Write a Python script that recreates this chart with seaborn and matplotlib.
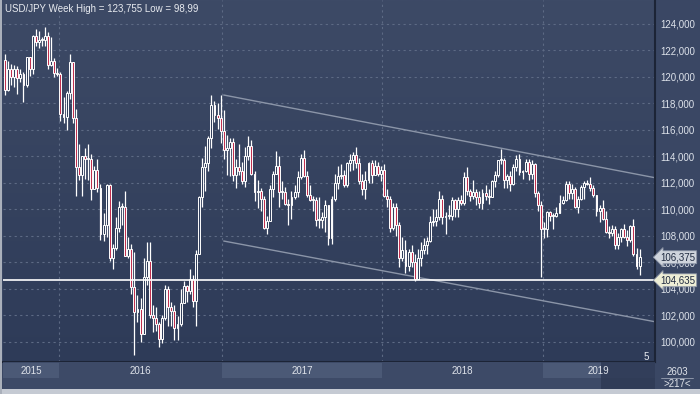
import numpy as np
import pandas as pd
import matplotlib
matplotlib.use("Agg")
import matplotlib.pyplot as plt
import matplotlib.transforms as mtransforms
from matplotlib.patches import Rectangle
import seaborn as sns

# weekly USD/JPY, Sep 2015 .. Aug 2019 (open = previous close)
first_open = 121.3
close = [119.0, 120.6, 120.0, 120.6, 119.9, 120.2, 119.4, 121.5, 120.6, 123.1, 122.6, 122.8, 122.8, 123.1, 120.9, 121.2, 120.3, 120.2,
         117.2, 117.0, 118.8, 121.1, 116.9, 113.2, 112.6, 114.0, 113.8, 113.8, 111.5, 113.0, 111.6, 108.1, 108.8, 111.8, 106.3, 107.1,
         108.6, 110.2, 110.2, 106.5, 107.0, 104.1, 102.2, 102.5, 100.6, 104.9, 106.1, 102.0, 101.8, 101.3, 100.2, 101.8, 104.0, 102.6,
         102.3, 101.0, 101.3, 102.9, 104.2, 103.8, 104.7, 103.1, 106.6, 110.9, 113.2, 113.5, 115.4, 117.9, 117.1, 116.9,
         115.9, 114.5, 114.6, 115.1, 112.6, 113.2, 112.9, 112.1, 114.0, 114.8, 112.7, 111.3, 111.4, 110.8, 108.6, 109.1, 111.5, 112.7,
         113.3, 111.3, 111.3, 110.4, 110.3, 110.9, 111.3, 112.4, 113.9, 112.5, 111.1, 110.7, 110.7, 109.2, 109.2, 109.4, 110.3, 107.8,
         110.8, 112.0, 112.5, 112.6, 111.8, 113.5, 113.7, 114.1, 113.5, 112.1, 111.5, 112.2, 113.5, 112.6, 113.3, 112.7,
         113.0, 111.0, 110.8, 108.6, 110.2, 108.8, 106.3, 106.9, 105.7, 106.8, 106.0, 104.7, 106.3, 106.9, 107.3, 107.6, 109.0, 109.1,
         109.4, 110.8, 109.4, 109.5, 109.5, 110.7, 110.0, 110.7, 110.5, 112.4, 111.4, 111.0, 111.3, 110.9, 110.5, 111.2, 111.0, 110.9,
         112.1, 112.6, 113.7, 113.7, 112.2, 112.5, 111.9, 113.2, 113.8, 112.8, 112.9, 113.6, 112.7, 113.4, 111.2, 110.3,
         108.5, 108.5, 109.8, 109.5, 109.5, 109.7, 110.5, 110.7, 111.9, 111.2, 111.5, 110.2, 110.8, 111.7, 112.0, 111.9, 111.6, 111.1,
         109.9, 110.1, 109.3, 108.3, 108.2, 108.5, 107.3, 107.9, 108.5, 107.9, 107.7, 108.7, 106.6, 105.7, 106.4]
high = [121.7, 121.2, 121.0, 120.9, 120.8, 120.6, 120.4, 121.5, 121.5, 123.2, 123.6, 123.5, 123.0, 123.755, 123.4, 123.0, 121.4, 120.7,
        120.4, 118.5, 118.9, 121.7, 121.0, 117.6, 114.9, 114.0, 114.6, 114.9, 114.2, 113.3, 113.8, 111.9, 109.7, 111.9, 111.9, 107.4,
        109.4, 110.6, 110.5, 111.4, 107.9, 107.4, 106.8, 103.5, 103.3, 106.3, 107.5, 107.5, 102.8, 102.6, 101.5, 102.0, 104.3, 104.2,
        103.0, 102.8, 101.9, 104.0, 104.6, 104.3, 105.5, 105.0, 106.9, 111.0, 113.9, 114.8, 115.5, 118.66, 118.2, 118.0,
        118.6, 117.5, 115.6, 115.4, 115.4, 113.8, 114.9, 113.6, 114.7, 115.5, 115.2, 112.9, 112.2, 111.6, 111.0, 109.5, 111.8, 112.9,
        114.4, 114.0, 112.1, 111.7, 110.8, 111.4, 111.8, 112.9, 114.2, 114.5, 112.9, 111.8, 111.0, 110.9, 110.9, 109.8, 110.7, 110.3,
        111.0, 112.7, 113.3, 113.4, 113.0, 113.6, 114.2, 114.3, 114.7, 113.9, 112.7, 112.9, 113.6, 113.7, 113.7, 113.6,
        113.3, 113.4, 111.5, 111.0, 110.5, 110.5, 109.0, 107.9, 107.7, 107.0, 107.3, 106.6, 107.0, 107.5, 107.8, 107.9, 109.5, 110.0,
        110.0, 111.4, 111.1, 109.8, 110.3, 110.9, 110.8, 110.9, 111.1, 112.8, 113.2, 111.5, 112.2, 111.5, 111.4, 111.5, 111.8, 111.5,
        112.2, 112.9, 113.7, 114.55, 113.9, 112.7, 112.9, 113.4, 114.1, 114.2, 113.0, 113.8, 113.8, 113.7, 113.5, 111.4,
        110.6, 109.0, 109.9, 109.9, 109.7, 110.2, 111.1, 111.0, 112.1, 112.1, 111.9, 111.7, 111.0, 111.8, 112.1, 112.2, 112.4, 111.8,
        111.1, 110.3, 110.7, 109.9, 108.7, 108.8, 108.7, 108.2, 108.6, 108.9, 108.4, 108.8, 109.3, 107.1, 107.0]
low = [118.6, 118.9, 119.4, 119.2, 118.7, 119.6, 118.1, 119.2, 120.1, 120.2, 122.3, 122.2, 122.3, 122.3, 120.6, 120.8, 120.0, 120.1,
       116.7, 116.5, 115.98, 118.3, 116.5, 110.98, 112.2, 111.0, 112.3, 112.2, 110.7, 111.5, 111.3, 107.7, 107.6, 107.9, 106.1, 105.5,
       106.9, 108.3, 108.8, 106.5, 106.3, 103.6, 98.99, 101.5, 99.99, 100.6, 104.3, 101.8, 100.7, 100.8, 99.6, 99.9, 101.6, 101.2,
       101.2, 100.1, 100.1, 101.2, 102.9, 103.0, 103.6, 102.6, 101.2, 106.6, 110.2, 111.4, 112.9, 114.6, 116.6, 116.1,
       115.0, 113.8, 112.6, 112.5, 112.1, 111.6, 112.6, 111.9, 111.7, 113.7, 112.6, 110.6, 110.1, 109.9, 108.5, 108.1, 109.3, 110.9,
       112.7, 110.2, 110.8, 110.3, 108.8, 109.3, 110.8, 110.9, 112.3, 112.4, 110.9, 110.6, 109.9, 108.7, 108.6, 108.6, 108.3, 107.3,
       107.4, 110.6, 111.5, 112.3, 111.7, 111.7, 112.9, 113.0, 113.1, 111.9, 111.1, 110.8, 112.0, 112.0, 112.6, 112.5,
       112.1, 110.9, 110.2, 108.3, 108.4, 108.0, 105.6, 106.1, 105.2, 105.3, 105.6, 104.6, 104.7, 105.7, 106.6, 106.6, 107.5, 108.7,
       108.7, 109.2, 108.9, 108.1, 109.3, 109.2, 109.4, 109.4, 110.3, 110.3, 111.1, 110.6, 110.8, 110.3, 110.1, 110.0, 110.7, 110.4,
       110.9, 111.7, 112.4, 113.4, 111.6, 111.6, 111.4, 111.8, 112.9, 112.6, 112.3, 112.8, 112.2, 112.3, 110.9, 109.9,
       104.87, 107.8, 107.9, 109.1, 108.5, 109.4, 109.7, 110.4, 110.6, 110.8, 110.8, 110.1, 109.7, 110.7, 110.8, 111.8, 111.4, 110.9,
       109.5, 109.0, 109.2, 108.2, 107.8, 108.0, 107.0, 107.0, 107.5, 107.8, 107.2, 107.5, 106.5, 105.5, 105.05]

# trend channel drawn on the chart (week index, price)
chan_x = [71, 211.5]
chan_upper = [118.63, 112.36]
chan_lower = [107.60, 101.48]
last_price = 106.375
level_price = 104.635
years = ["2015", "2016", "2017", "2018", "2019"]

dates = pd.date_range("2015-09-04", periods=len(close), freq="W-FRI")
df = pd.DataFrame({"date": dates, "close": close, "high": high, "low": low})
df["open"] = [first_open] + close[:-1]
df["i"] = np.arange(len(df))
year_starts = [int(df.index[df["date"].dt.year == y][0]) for y in [2016, 2017, 2018, 2019]]

sns.set_theme(style="dark")
plt.rcParams["font.family"] = ["Liberation Sans", "DejaVu Sans"]

W, H = 700, 394
fig = plt.figure(figsize=(7, 3.94), dpi=100, facecolor="#3a4764")
ax = fig.add_axes([3 / W, 1 - 362 / H, 652 / W, 362 / H])
ax.set_facecolor("#33405c")

# vertical gradient background
grad = np.linspace(0, 1, 256).reshape(-1, 1)
cmap = matplotlib.colors.LinearSegmentedColormap.from_list("bg", ["#3d4a66", "#2e3b58"])
ax.imshow(grad, aspect="auto", cmap=cmap, extent=[0, 1, 0, 1], transform=ax.transAxes, zorder=0)

ax.set_xlim(-0.65, 211.0)
ax.set_ylim(98.46, 125.81)

for v in range(100, 125, 2):
    ax.axhline(v, color="#5d6a84", lw=0.8, ls=(0, (2, 3)), zorder=1)
for xi in year_starts:
    ax.axvline(xi + 0.5, color="#5d6a84", lw=0.8, ls=(0, (2, 3)), zorder=1)

# candles
up = df["close"] >= df["open"]
bottom = df[["open", "close"]].min(axis=1)
height = (df["close"] - df["open"]).abs().clip(lower=0.08)
ax.vlines(df["i"], df["low"], df["high"], color="white", lw=0.9, zorder=3)
ax.bar(df["i"], height, bottom=bottom, width=0.62,
       color=np.where(up, "#33405c", "#c0304f"), edgecolor="white", linewidth=0.7, zorder=4)

# channel and level line
sns.lineplot(x=chan_x, y=chan_upper, color="#8b95a8", lw=1, ax=ax, zorder=2)
sns.lineplot(x=chan_x, y=chan_lower, color="#8b95a8", lw=1, ax=ax, zorder=2)
ax.axhline(level_price, color="white", lw=1.2, zorder=5)

ax.set_xticks([])
ax.set_yticks(range(100, 125, 2))
ax.set_yticklabels([f"{v:.3f}".replace(".", ",") for v in range(100, 125, 2)])
ax.yaxis.tick_right()
ax.tick_params(axis="y", length=0, pad=4, labelsize=7, labelcolor="#dde2ea")
for s in ["top", "left"]:
    ax.spines[s].set_visible(False)
for s in ["right", "bottom"]:
    ax.spines[s].set_color("#1c2436")
    ax.spines[s].set_linewidth(1.5)

# price tags on the right axis (they sit over the tick labels, as on the terminal)
tr = mtransforms.blended_transform_factory(ax.transAxes, ax.transData)
ax.text(1.008, last_price, f"{last_price:.3f}".replace(".", ","), transform=tr, fontsize=7, color="#1f2a40",
        va="center", ha="left", zorder=10, clip_on=False,
        bbox=dict(boxstyle="larrow,pad=0.15", fc="#cfd4dc", ec="#8a93a5", lw=0.6))
ax.text(1.008, level_price, f"{level_price:.3f}".replace(".", ","), transform=tr, fontsize=7, color="#1f2a40",
        va="center", ha="left", zorder=10, clip_on=False,
        bbox=dict(boxstyle="larrow,pad=0.15", fc="#eeeed6", ec="#8a93a5", lw=0.6))

# year strip along the bottom
bx = fig.add_axes([3 / W, 1 - 389 / H, 652 / W, 27 / H])
bx.set_facecolor("#3d4a67")
bx.set_xlim(ax.get_xlim())
bx.set_ylim(0, 27)
bx.axis("off")
bx.add_patch(Rectangle((-0.65, 0), 212, 27, fc="#3d4a67", ec="none"))
edges = [-0.65] + [xi + 0.5 for xi in year_starts] + [211.0]
for k, yr in enumerate(years):
    if k % 2 == 0:
        bx.add_patch(Rectangle((edges[k], 11), edges[k + 1] - edges[k], 15, fc="#4b5976", ec="none"))
    bx.text((edges[k] + edges[k + 1]) / 2, 18, yr, ha="center", va="center", fontsize=7, color="#dfe3ea")
bx.add_patch(Rectangle((193.5, 0), 17.5, 27, fc="#2e3a55", ec="none", alpha=0.85))

# frame pieces and small texts
fig.patches.append(Rectangle((0, 0), 1, 5 / H, transform=fig.transFigure, fc="#c5cad3", ec="none"))
fig.patches.append(Rectangle((0, 0), 2 / W, 1, transform=fig.transFigure, fc="#aab0bb", ec="none"))
fig.text(5 / W, 1 - 9 / H, "USD/JPY Week High = 123,755 Low = 98,99", fontsize=7, color="#e8ebf0", va="center")
fig.text(646 / W, 1 - 357 / H, "5", fontsize=7, color="#e8ebf0", va="center", ha="center")
fig.text(677 / W, 1 - 372 / H, "2603", fontsize=7, color="#dfe3ea", va="center", ha="center")
fig.text(677 / W, 1 - 384 / H, ">217<", fontsize=7, color="#dfe3ea", va="center", ha="center")
fig.lines.append(plt.Line2D([661 / W, 693 / W], [1 - 378 / H, 1 - 378 / H], transform=fig.transFigure,
                            color="#9aa3b3", lw=0.6))

fig.savefig("out.png", dpi=100, facecolor=fig.get_facecolor())
